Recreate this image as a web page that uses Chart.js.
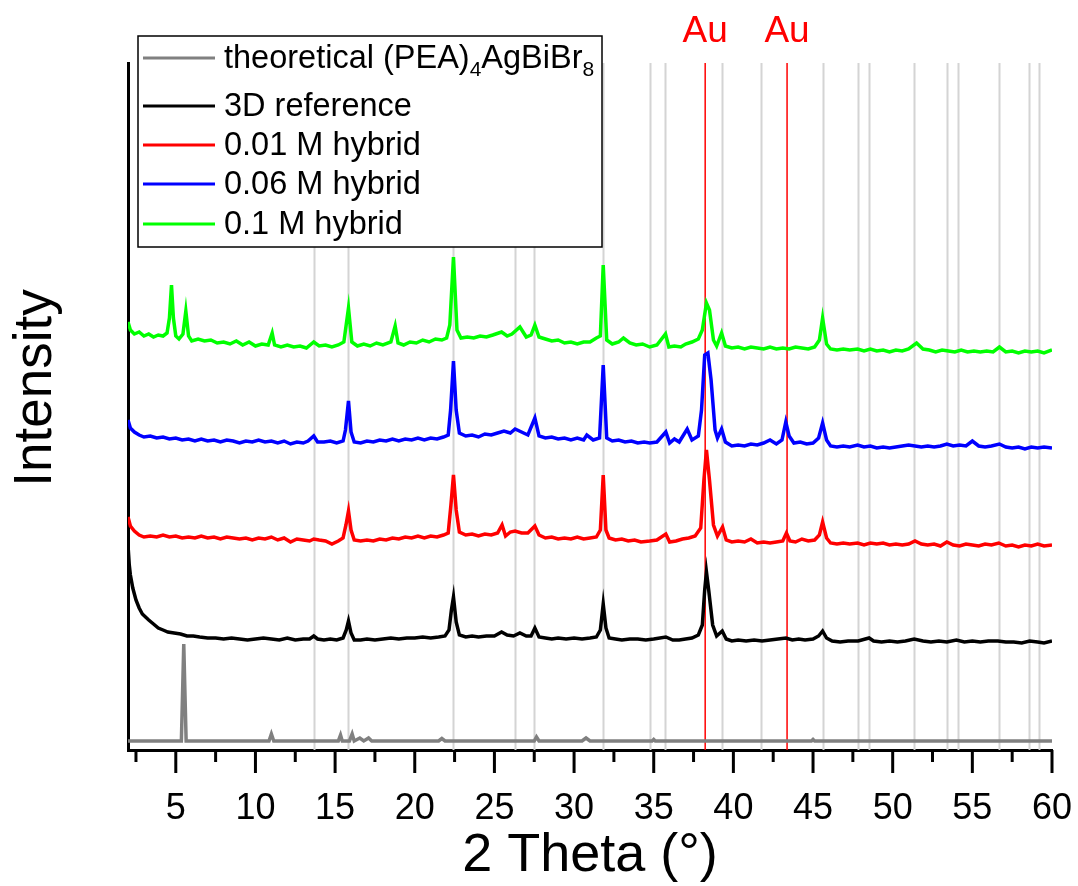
<!DOCTYPE html>
<html>
<head>
<meta charset="utf-8">
<script src="https://cdn.jsdelivr.net/npm/chart.js@4"></script>
<style>
  body { margin: 0; background: #fff; }
  canvas { display: block; }
</style>
</head>
<body>
<canvas id="xrd" width="1078" height="886"></canvas>
<script>
// 2 theta (deg) vs intensity (a.u., already stacked as plotted)
const theoretical = [
	[2.0, 9], [4.0, 9], [5.35, 9], [5.43, 60], [5.5, 106], [5.57, 60], [5.65, 9], [8.0, 9],
	[10.85, 9], [11.0, 16], [11.15, 9], [13.5, 9], [15.2, 9], [15.34, 15], [15.45, 9],
	[15.9, 9], [16.07, 16], [16.2, 9], [16.55, 12], [16.8, 9], [17.1, 12], [17.3, 9],
	[19.0, 9], [21.5, 9], [21.7, 11.5], [21.9, 9], [25.0, 9], [27.5, 9], [27.64, 13],
	[27.8, 9], [30.5, 9], [30.75, 12], [31.0, 9], [33.0, 9], [34.9, 9], [35.0, 10.5], [35.1, 9],
	[38.0, 9], [42.0, 9], [44.9, 9], [45.0, 10.5], [45.1, 9], [50.0, 9], [60.0, 9]
];

const ref3D = [
	[2.0, 205], [2.08, 185], [2.15, 175], [2.3, 162], [2.5, 150], [2.7, 142], [2.9, 136],
	[3.1, 133], [3.3, 130], [3.6, 126], [3.9, 122], [4.2, 120], [4.5, 118], [4.9, 117],
	[5.3, 116], [5.7, 114], [6.1, 114], [6.5, 113], [7.0, 112], [7.5, 112], [8.0, 111],
	[8.5, 112], [9.0, 111], [9.5, 110], [10.0, 111], [10.5, 112], [11.0, 111], [11.5, 110],
	[12.0, 112], [12.5, 110], [13.0, 111], [13.4, 111], [13.66, 114], [13.9, 111],
	[14.3, 110], [14.7, 111], [15.1, 110], [15.5, 112], [15.7, 120], [15.84, 129],
	[16.0, 117], [16.2, 110], [16.6, 110], [17.0, 111], [17.5, 110], [18.0, 111],
	[18.5, 112], [19.0, 111], [19.5, 112], [20.0, 112], [20.5, 113], [21.0, 112],
	[21.5, 113], [21.9, 114], [22.15, 120], [22.3, 140], [22.43, 153], [22.6, 128],
	[22.8, 115], [23.2, 113], [23.6, 114], [24.0, 113], [24.5, 114], [25.0, 114],
	[25.45, 118], [25.8, 115], [26.2, 114], [26.6, 117], [27.0, 114], [27.3, 114],
	[27.54, 122], [27.8, 113], [28.2, 112], [28.6, 111], [29.0, 112], [29.5, 111],
	[30.0, 112], [30.5, 111], [31.0, 112], [31.4, 113], [31.65, 120], [31.83, 146],
	[32.0, 122], [32.2, 112], [32.6, 111], [33.0, 110], [33.5, 111], [34.0, 111],
	[34.5, 110], [35.0, 111], [35.76, 113], [36.2, 110], [36.6, 110], [37.0, 111],
	[37.4, 112], [37.8, 115], [38.05, 125], [38.2, 160], [38.31, 178], [38.45, 160],
	[38.7, 125], [38.95, 114], [39.3, 119], [39.55, 111], [39.9, 109], [40.3, 110],
	[40.8, 109], [41.3, 110], [41.8, 109], [42.3, 110], [42.8, 111], [43.3, 112],
	[43.7, 110], [44.1, 111], [44.5, 110], [45.0, 111], [45.35, 114], [45.6, 119],
	[45.85, 112], [46.2, 109], [46.7, 108], [47.2, 109], [47.83, 109], [48.52, 112],
	[48.8, 109], [49.3, 108], [49.8, 109], [50.3, 108], [50.8, 109], [51.35, 111],
	[51.9, 109], [52.4, 108], [52.9, 109], [53.4, 108], [54.0, 110], [54.5, 108],
	[55.0, 109], [55.5, 108], [56.0, 109], [56.6, 109], [57.1, 108], [57.6, 108],
	[58.1, 107], [58.6, 109], [59.1, 108], [59.5, 107], [60.0, 109]
];

const hybrid001 = [
	[2.0, 233], [2.15, 224], [2.4, 219], [2.7, 215], [3.0, 213], [3.4, 214], [3.8, 213],
	[4.2, 215], [4.6, 213], [5.0, 214], [5.4, 212], [5.8, 213], [6.2, 212], [6.6, 214],
	[7.0, 212], [7.4, 213], [7.8, 211], [8.2, 213], [8.6, 212], [9.0, 211], [9.4, 212],
	[9.8, 210], [10.2, 212], [10.6, 211], [11.0, 213], [11.4, 210], [11.8, 212],
	[12.2, 208], [12.6, 211], [13.0, 210], [13.4, 209], [13.66, 211], [14.0, 210],
	[14.4, 209], [14.8, 206], [15.2, 209], [15.5, 212], [15.68, 225], [15.84, 239],
	[16.0, 220], [16.2, 210], [16.6, 209], [17.0, 210], [17.4, 209], [17.8, 211],
	[18.2, 210], [18.6, 212], [19.0, 211], [19.4, 213], [19.8, 212], [20.2, 214],
	[20.6, 212], [21.0, 214], [21.4, 213], [21.8, 215], [22.1, 217], [22.27, 245],
	[22.43, 275], [22.6, 240], [22.8, 218], [23.2, 215], [23.6, 216], [24.0, 214],
	[24.4, 216], [24.8, 215], [25.2, 217], [25.48, 225], [25.7, 214], [26.0, 218],
	[26.3, 219], [26.7, 217], [27.1, 217], [27.54, 224], [27.8, 215], [28.2, 212],
	[28.6, 213], [29.0, 211], [29.4, 212], [29.8, 211], [30.2, 213], [30.6, 211],
	[31.0, 212], [31.4, 213], [31.65, 220], [31.83, 275], [32.0, 220], [32.2, 212],
	[32.6, 210], [33.0, 211], [33.4, 209], [33.8, 210], [34.2, 208], [34.75, 209],
	[35.2, 210], [35.76, 216], [36.0, 208], [36.4, 209], [36.8, 211], [37.2, 212],
	[37.6, 214], [37.95, 222], [38.15, 270], [38.31, 300], [38.5, 270], [38.75, 225],
	[39.0, 214], [39.32, 223], [39.55, 210], [39.9, 208], [40.3, 209], [40.7, 208],
	[41.1, 211], [41.5, 207], [41.9, 208], [42.3, 207], [42.7, 208], [43.1, 209],
	[43.33, 217], [43.55, 209], [43.9, 208], [44.3, 211], [44.7, 209], [45.1, 210],
	[45.4, 215], [45.6, 228], [45.85, 212], [46.1, 207], [46.5, 206], [46.9, 207],
	[47.3, 206], [47.8, 207], [48.2, 205], [48.6, 207], [49.0, 206], [49.4, 207],
	[49.8, 205], [50.2, 206], [50.6, 205], [51.0, 206], [51.4, 209], [51.8, 206],
	[52.2, 205], [52.6, 206], [53.0, 204], [53.4, 208], [53.8, 205], [54.2, 204],
	[54.6, 206], [55.0, 205], [55.4, 204], [55.8, 206], [56.2, 205], [56.66, 207],
	[57.1, 204], [57.5, 205], [57.9, 203], [58.3, 205], [58.7, 204], [59.1, 206],
	[59.5, 204], [60.0, 205]
];

const hybrid006 = [
	[2.0, 330], [2.15, 322], [2.4, 318], [2.7, 315], [3.0, 313], [3.4, 314], [3.8, 312],
	[4.2, 313], [4.6, 311], [5.0, 312], [5.4, 310], [5.8, 311], [6.2, 309], [6.6, 311],
	[7.0, 309], [7.4, 310], [7.8, 308], [8.2, 310], [8.6, 309], [9.0, 307], [9.4, 309],
	[9.8, 308], [10.2, 310], [10.6, 308], [11.0, 309], [11.4, 307], [11.8, 309],
	[12.2, 306], [12.6, 308], [13.0, 307], [13.3, 309], [13.66, 314], [13.9, 308],
	[14.3, 308], [14.7, 309], [15.1, 307], [15.5, 309], [15.65, 320], [15.84, 349],
	[16.0, 318], [16.2, 308], [16.6, 307], [17.0, 309], [17.4, 308], [17.8, 310],
	[18.2, 309], [18.6, 311], [19.0, 309], [19.4, 311], [19.8, 310], [20.2, 312],
	[20.6, 310], [21.0, 312], [21.4, 311], [21.8, 313], [22.1, 315], [22.25, 340],
	[22.43, 389], [22.6, 340], [22.8, 317], [23.2, 314], [23.6, 315], [24.0, 313],
	[24.4, 316], [24.8, 315], [25.2, 317], [25.6, 319], [26.0, 317], [26.3, 321],
	[26.7, 318], [27.1, 315], [27.54, 332], [27.8, 314], [28.2, 312], [28.6, 313],
	[29.0, 311], [29.4, 312], [29.8, 310], [30.2, 312], [30.6, 310], [30.8, 315],
	[31.2, 310], [31.6, 312], [31.83, 385], [32.05, 312], [32.4, 309], [32.8, 310],
	[33.2, 308], [33.6, 309], [34.0, 307], [34.4, 308], [34.75, 307], [35.2, 308],
	[35.76, 318], [36.0, 307], [36.3, 311], [36.6, 308], [37.1, 321], [37.4, 310],
	[37.8, 314], [38.0, 340], [38.2, 395], [38.4, 397], [38.6, 370], [38.85, 320],
	[39.0, 312], [39.26, 321], [39.5, 308], [39.9, 304], [40.3, 305], [40.7, 304],
	[41.1, 306], [41.5, 305], [41.9, 307], [42.3, 310], [42.7, 306], [43.05, 310],
	[43.29, 328], [43.5, 314], [43.8, 307], [44.2, 308], [44.6, 306], [45.0, 307],
	[45.35, 312], [45.6, 327], [45.85, 310], [46.1, 304], [46.5, 303], [46.9, 304],
	[47.3, 303], [47.8, 305], [48.2, 303], [48.6, 304], [49.0, 302], [49.4, 303],
	[49.8, 302], [50.2, 303], [50.6, 304], [51.0, 305], [51.4, 304], [51.8, 303],
	[52.2, 304], [52.6, 303], [53.0, 304], [53.4, 306], [53.8, 304], [54.2, 305],
	[54.6, 304], [55.0, 309], [55.4, 304], [55.8, 303], [56.2, 304], [56.7, 306],
	[57.1, 303], [57.5, 302], [57.9, 303], [58.3, 301], [58.7, 303], [59.1, 302],
	[59.5, 303], [60.0, 302]
];

const hybrid01 = [
	[2.0, 428], [2.15, 420], [2.4, 416], [2.7, 418], [3.0, 414], [3.3, 416], [3.6, 413],
	[3.9, 415], [4.2, 414], [4.45, 417], [4.6, 432], [4.73, 465], [4.85, 432], [5.0, 414],
	[5.2, 411], [5.45, 416], [5.63, 439], [5.8, 414], [6.0, 409], [6.4, 411], [6.8, 409],
	[7.2, 410], [7.6, 407], [8.0, 408], [8.4, 406], [8.8, 409], [9.2, 405], [9.6, 408],
	[10.0, 404], [10.4, 406], [10.8, 405], [11.05, 417], [11.2, 405], [11.6, 403],
	[12.0, 405], [12.4, 403], [12.8, 404], [13.2, 402], [13.66, 408], [14.0, 404],
	[14.4, 405], [14.8, 403], [15.2, 405], [15.55, 408], [15.84, 442], [16.05, 408],
	[16.4, 404], [16.8, 406], [17.2, 404], [17.6, 407], [18.0, 405], [18.5, 408],
	[18.77, 424], [18.95, 407], [19.3, 405], [19.7, 408], [20.1, 407], [20.5, 410],
	[20.9, 408], [21.3, 411], [21.7, 410], [22.0, 412], [22.2, 425], [22.43, 493],
	[22.65, 420], [22.9, 412], [23.3, 413], [23.7, 412], [24.1, 414], [24.5, 413],
	[24.9, 415], [25.45, 418], [25.8, 414], [26.1, 416], [26.6, 423], [27.0, 413],
	[27.3, 415], [27.54, 425], [27.8, 413], [28.2, 411], [28.6, 409], [29.0, 410],
	[29.4, 407], [29.8, 408], [30.2, 406], [30.6, 408], [31.0, 408], [31.4, 412],
	[31.65, 414], [31.83, 485], [32.05, 410], [32.4, 406], [32.8, 408], [33.1, 412],
	[33.5, 407], [33.9, 405], [34.3, 406], [34.75, 403], [35.2, 405], [35.74, 416],
	[35.95, 403], [36.3, 404], [36.7, 403], [37.0, 406], [37.4, 408], [37.8, 411],
	[38.05, 420], [38.31, 447], [38.5, 440], [38.75, 410], [38.95, 404], [39.26, 417],
	[39.5, 404], [39.9, 402], [40.3, 403], [40.7, 401], [41.1, 403], [41.5, 402],
	[41.9, 401], [42.3, 403], [42.7, 401], [43.1, 402], [43.5, 401], [43.9, 403],
	[44.3, 402], [44.7, 401], [45.1, 403], [45.4, 410], [45.6, 432], [45.85, 406],
	[46.1, 401], [46.5, 400], [46.9, 401], [47.3, 400], [47.8, 401], [48.2, 399],
	[48.6, 401], [49.0, 399], [49.4, 400], [49.8, 398], [50.2, 400], [50.6, 399],
	[51.0, 401], [51.5, 407], [51.9, 401], [52.3, 400], [52.7, 398], [53.1, 400],
	[53.5, 399], [53.9, 398], [54.3, 400], [54.7, 398], [55.1, 399], [55.5, 398],
	[55.9, 399], [56.3, 398], [56.7, 403], [57.1, 398], [57.5, 399], [57.9, 397],
	[58.3, 399], [58.7, 398], [59.1, 399], [59.5, 397], [60.0, 400]
];

const seriesLabels = ["theoretical (PEA)4AgBiBr8", "3D reference", "0.01 M hybrid", "0.06 M hybrid", "0.1 M hybrid"];
const seriesColors = ["#808080", "#000000", "#ff0000", "#0000ff", "#00ff00"];

// reference reflections (grey) and Au substrate reflections (red)
const refLines = [13.66, 15.78, 22.37, 26.30, 27.49, 31.83, 34.75, 35.70, 39.26, 41.72, 45.60,
	47.83, 48.52, 51.35, 53.38, 54.07, 56.66, 58.57, 59.19];
const auLines = [38.23, 43.37];

const majorTicks = [5, 10, 15, 20, 25, 30, 35, 40, 45, 50, 55, 60];
const minorTicks = [2.5, 7.5, 12.5, 17.5, 22.5, 27.5, 32.5, 37.5, 42.5, 47.5, 52.5, 57.5];

const FONT = "'Liberation Sans', Arial, sans-serif";

const toXY = arr => arr.map(p => ({ x: p[0], y: p[1] }));
const allSeries = [theoretical, ref3D, hybrid001, hybrid006, hybrid01];

const decorPlugin = {
	id: "decor",
	beforeDatasetsDraw(chart) {
		const ctx = chart.ctx;
		const xs = chart.scales.x;
		const area = chart.chartArea;
		ctx.save();
		ctx.lineWidth = 2;
		ctx.strokeStyle = "#d4d4d4";
		refLines.forEach(v => {
			const px = Math.round(xs.getPixelForValue(v)) + 0.5;
			ctx.beginPath();
			ctx.moveTo(px, area.top);
			ctx.lineTo(px, area.bottom);
			ctx.stroke();
		});
		ctx.lineWidth = 1.5;
		ctx.strokeStyle = "#ff0000";
		auLines.forEach(v => {
			const px = xs.getPixelForValue(v);
			ctx.beginPath();
			ctx.moveTo(px, area.top);
			ctx.lineTo(px, area.bottom);
			ctx.stroke();
		});
		ctx.restore();
	},
	afterDraw(chart) {
		const ctx = chart.ctx;
		const xs = chart.scales.x;
		const area = chart.chartArea;
		ctx.save();

		// tick marks
		ctx.strokeStyle = "#000";
		ctx.lineWidth = 3;
		const tick = (v, len) => {
			const px = xs.getPixelForValue(v);
			ctx.beginPath();
			ctx.moveTo(px, area.bottom);
			ctx.lineTo(px, area.bottom + len);
			ctx.stroke();
		};
		majorTicks.forEach(v => tick(v, 23));
		minorTicks.forEach(v => tick(v, 12));

		// Au labels
		ctx.fillStyle = "#ff0000";
		ctx.font = "37px " + FONT;
		ctx.textAlign = "center";
		ctx.textBaseline = "alphabetic";
		auLines.forEach(v => ctx.fillText("Au", xs.getPixelForValue(v), 42));

		// axis titles
		ctx.fillStyle = "#000";
		ctx.font = "54px " + FONT;
		ctx.textAlign = "center";
		ctx.textBaseline = "middle";
		ctx.fillText("2 Theta (\u00b0)", (area.left + area.right) / 2, 856);
		ctx.font = "53px " + FONT;
		ctx.save();
		ctx.translate(36, 388);
		ctx.rotate(-Math.PI / 2);
		ctx.fillText("Intensity", 0, 0);
		ctx.restore();

		// legend
		const box = { x: 138, y: 36, w: 464, h: 211 };
		ctx.fillStyle = "#fff";
		ctx.fillRect(box.x, box.y, box.w, box.h);
		ctx.lineWidth = 1.5;
		ctx.strokeStyle = "#000";
		ctx.strokeRect(box.x, box.y, box.w, box.h);
		const rowY = [58, 106, 145, 184, 224];
		ctx.textAlign = "left";
		ctx.textBaseline = "middle";
		seriesLabels.forEach((label, i) => {
			const y = rowY[i];
			ctx.strokeStyle = seriesColors[i];
			ctx.lineWidth = 3;
			ctx.beginPath();
			ctx.moveTo(143, y);
			ctx.lineTo(215, y);
			ctx.stroke();
			ctx.fillStyle = "#000";
			let x = 224;
			if (i === 0) {
				const parts = [["theoretical (PEA)", 0], ["4", 1], ["AgBiBr", 0], ["8", 1]];
				parts.forEach(([t, sub]) => {
					ctx.font = (sub ? "21px " : "32.5px ") + FONT;
					ctx.fillText(t, x, sub ? y + 12 : y + 1);
					x += ctx.measureText(t).width;
				});
			} else {
				ctx.font = "32.5px " + FONT;
				ctx.fillText(label, x, y + 1);
			}
		});
		ctx.restore();
	}
};

new Chart(document.getElementById("xrd"), {
	type: "line",
	data: {
		datasets: allSeries.map((s, i) => ({
			label: seriesLabels[i],
			data: toXY(s),
			borderColor: seriesColors[i],
			borderWidth: 3.5,
			pointRadius: 0,
			tension: 0,
			fill: false
		}))
	},
	options: {
		responsive: false,
		animation: false,
		layout: { padding: { left: 0, right: 26, top: 63, bottom: 0 } },
		plugins: { legend: { display: false }, tooltip: { enabled: false } },
		scales: {
			x: {
				type: "linear",
				min: 2,
				max: 60,
				afterBuildTicks: scale => { scale.ticks = majorTicks.map(v => ({ value: v })); },
				afterFit: scale => {
					scale.height = 136;
					scale.paddingLeft = 0;
					scale.paddingRight = 0;
				},
				grid: { display: false, drawTicks: false },
				border: { display: true, color: "#000", width: 3 },
				ticks: {
					color: "#000",
					font: { size: 36, family: FONT },
					padding: 37,
					maxRotation: 0,
					autoSkip: false
				}
			},
			y: {
				min: 0,
				max: 687,
				afterFit: scale => { scale.width = 128; },
				grid: { display: false, drawTicks: false },
				border: { display: true, color: "#000", width: 3 },
				ticks: { display: false }
			}
		}
	},
	plugins: [decorPlugin]
});
</script>
</body>
</html>
